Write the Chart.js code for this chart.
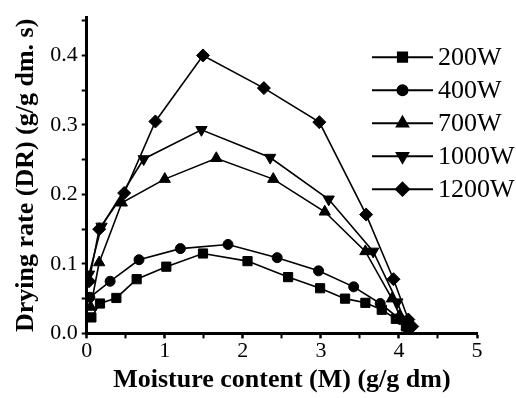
<!DOCTYPE html>
<html lang="en">
<head>
  <meta charset="UTF-8">
  <title>Drying rate vs moisture content</title>
  <script src="https://cdn.jsdelivr.net/npm/chart.js"></script>
  <style>
    html, body { margin: 0; padding: 0; background: #fff; }
    #wrap { width: 516px; height: 398px; }
  </style>
</head>
<body>
  <div id="wrap"><canvas id="drChart"></canvas></div>

  <script>
    // values
    const seriesNames = ['200W', '400W', '700W', '1000W', '1200W'];

    const x200 = [0.06, 0.17, 0.38, 0.64, 1.02, 1.49, 2.06, 2.58, 2.99, 3.31, 3.57, 3.78, 3.96, 4.09];
    const y200 = [0.023, 0.043, 0.051, 0.078, 0.096, 0.115, 0.104, 0.081, 0.065, 0.050, 0.044, 0.034, 0.021, 0.010];

    const x400 = [0.04, 0.30, 0.67, 1.20, 1.81, 2.44, 2.97, 3.42, 3.76, 4.02, 4.12];
    const y400 = [0.052, 0.075, 0.106, 0.122, 0.128, 0.109, 0.090, 0.067, 0.043, 0.020, 0.006];

    const x700 = [0.05, 0.16, 0.45, 1.00, 1.66, 2.39, 3.05, 3.57, 3.91, 4.01, 4.10];
    const y700 = [0.038, 0.102, 0.188, 0.222, 0.252, 0.222, 0.175, 0.118, 0.050, 0.026, 0.010];

    const x1000 = [0.03, 0.19, 0.73, 1.47, 2.35, 3.10, 3.67, 3.98, 4.06, 4.12];
    const y1000 = [0.085, 0.154, 0.251, 0.293, 0.253, 0.193, 0.118, 0.045, 0.020, 0.006];

    const x1200 = [0.03, 0.16, 0.48, 0.88, 1.49, 2.27, 2.98, 3.58, 3.93, 4.12, 4.17];
    const y1200 = [0.075, 0.150, 0.202, 0.305, 0.400, 0.353, 0.304, 0.171, 0.078, 0.020, 0.010];

    const xTickLabels = ['0', '1', '2', '3', '4', '5'];
    const yTickLabels = ['0.0', '0.1', '0.2', '0.3', '0.4'];

    const FONT = "'Liberation Serif', 'Times New Roman', serif";

    const pts = (xs, ys) => xs.map((x, i) => ({ x: x, y: ys[i] }));

    const markers = [
      { pointStyle: 'rect', radius: 6.5, rotation: 0 },
      { pointStyle: 'circle', radius: 5, rotation: 0 },
      { pointStyle: 'triangle', radius: 6.5, rotation: 0 },
      { pointStyle: 'triangle', radius: 6.5, rotation: 180 },
      { pointStyle: 'rectRot', radius: 6.5, rotation: 0 },
    ];

    const allData = [pts(x200, y200), pts(x400, y400), pts(x700, y700), pts(x1000, y1000), pts(x1200, y1200)];

    const datasets = seriesNames.map((name, i) => ({
      label: name,
      data: allData[i],
      borderColor: '#000',
      backgroundColor: '#000',
      borderWidth: 1.6,
      pointStyle: markers[i].pointStyle,
      pointRadius: markers[i].radius,
      pointRotation: markers[i].rotation,
      pointBackgroundColor: '#000',
      pointBorderColor: '#000',
      pointBorderWidth: 1,
      tension: 0,
    }));

    // legend with a line through each marker, like the original
    const lineLegend = {
      id: 'lineLegend',
      afterDraw(chart) {
        const ctx = chart.ctx;
        const area = chart.chartArea;
        const x0 = area.right - 105;
        const x1 = x0 + 61;
        let y = area.top + 40;
        ctx.save();
        chart.data.datasets.forEach((ds, i) => {
          ctx.strokeStyle = '#000';
          ctx.lineWidth = 2;
          ctx.beginPath();
          ctx.moveTo(x0, y);
          ctx.lineTo(x1, y);
          ctx.stroke();
          ctx.fillStyle = '#000';
          Chart.helpers.drawPoint(ctx, {
            pointStyle: ds.pointStyle,
            radius: ds.pointRadius,
            rotation: ds.pointRotation,
            borderWidth: 1,
          }, (x0 + x1) / 2, y);
          ctx.fill();
          ctx.font = "26px " + FONT;
          ctx.textAlign = 'left';
          ctx.textBaseline = 'middle';
          ctx.fillText(ds.label, x1 + 5, y + 1);
          y += 33;
        });
        ctx.restore();
      }
    };

    new Chart(document.getElementById('drChart'), {
      type: 'line',
      data: { datasets: datasets },
      plugins: [lineLegend],
      options: {
        responsive: true,
        maintainAspectRatio: false,
        animation: false,
        layout: { padding: { top: 14, right: 39, bottom: 2, left: 11 } },
        plugins: {
          legend: { display: false },
          tooltip: { enabled: false },
        },
        scales: {
          x: {
            type: 'linear',
            min: 0,
            max: 5,
            afterBuildTicks: (axis) => {
              axis.ticks = [];
              for (let v = 0; v <= 10; v++) axis.ticks.push({ value: v * 0.5 });
            },
            border: { display: true, color: '#000', width: 3 },
            grid: {
              drawOnChartArea: false,
              drawTicks: true,
              tickLength: 5,
              tickColor: '#000',
              tickWidth: (c) => (Number.isInteger(c.tick.value) ? 2.5 : 2),
            },
            ticks: {
              color: '#000',
              padding: 0,
              autoSkip: false,
              maxRotation: 0,
              font: { family: FONT, size: 22 },
              callback: (v) => (Number.isInteger(v) ? xTickLabels[v] : ''),
            },
            title: {
              display: true,
              text: 'Moisture content (M) (g/g dm)',
              color: '#000',
              font: { family: FONT, size: 26, weight: 'bold' },
              padding: { top: 0, bottom: 0 },
            },
          },
          y: {
            type: 'linear',
            min: 0,
            max: 0.455,
            afterBuildTicks: (axis) => {
              axis.ticks = [];
              for (let v = 0; v <= 9; v++) axis.ticks.push({ value: v * 0.05 });
            },
            border: { display: true, color: '#000', width: 3 },
            grid: {
              drawOnChartArea: false,
              drawTicks: true,
              tickLength: 5,
              tickColor: '#000',
              tickWidth: 2,
            },
            ticks: {
              color: '#000',
              padding: 4,
              autoSkip: false,
              font: { family: FONT, size: 22 },
              callback: (v) => {
                const k = Math.round(v * 20);
                return k % 2 === 0 ? yTickLabels[k / 2] : '';
              },
            },
            title: {
              display: true,
              text: 'Drying rate (DR) (g/g dm. s)',
              color: '#000',
              font: { family: FONT, size: 26, weight: 'bold' },
              padding: { top: 0, bottom: 4 },
            },
          },
        },
      },
    });
  </script>
</body>
</html>
